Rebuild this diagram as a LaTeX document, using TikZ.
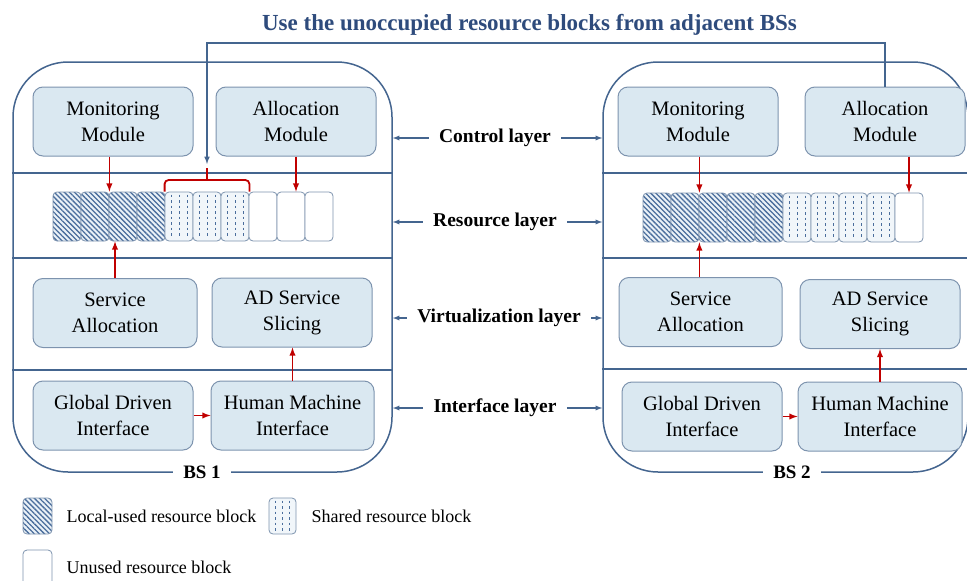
\documentclass[tikz,border=0pt]{standalone}
\usepackage{fontspec}
\setmainfont{Liberation Serif}
\usetikzlibrary{patterns.meta}
\definecolor{frameblue}{HTML}{44658F}
\definecolor{titleblue}{HTML}{2E4B7C}
\definecolor{modfill}{HTML}{DAE8F1}
\definecolor{modborder}{HTML}{7D93AE}
\definecolor{localfill}{HTML}{EAF1F7}
\definecolor{hatch}{HTML}{4A6D9C}
\definecolor{sharedfill}{HTML}{F1F6FA}
\definecolor{arrowred}{HTML}{C00000}
\begin{document}
\begin{tikzpicture}[x=1pt, y=-1pt,
    bsbox/.style={draw=frameblue, line width=1.5pt, rounded corners=55pt, minimum width=#1, minimum height=410pt},
    frame/.style={draw=frameblue, line width=1.5pt},
    module/.style={draw=modborder, fill=modfill, line width=1pt, rounded corners=10pt, minimum width=160pt, minimum height=69pt, align=center, font=\fontsize{20.5}{26}\selectfont},
    blk/.style={draw=modborder, line width=0.8pt, rounded corners=4pt, minimum width=28pt, minimum height=49pt, inner sep=0pt},
    localblk/.style={blk, preaction={fill=localfill}, pattern={Lines[angle=-45, distance=3.6pt, line width=1.3pt]}, pattern color=hatch},
    sharedblk/.style={blk, fill=sharedfill},
    freeblk/.style={blk, fill=white},
    dots/.style={draw=hatch, line width=0.6pt, dash pattern=on 2.5pt off 3pt, shorten <=3pt, shorten >=3pt},
    redarrow/.style={->, >=latex, draw=arrowred, line width=1.8pt},
    bracket/.style={draw=arrowred, line width=1.8pt, rounded corners=4pt},
    usearrow/.style={->, >=latex, draw=frameblue, line width=1.5pt},
    layerarrow/.style={->, >=latex, draw=frameblue, line width=1.3pt, shorten <=7pt},
    layer/.style={font=\bfseries\fontsize{19.5}{23}\selectfont},
    bslbl/.style={fill=white, inner xsep=10pt, font=\bfseries\fontsize{19}{23}\selectfont},
    legend/.style={anchor=west, font=\fontsize{18}{22}\selectfont}
]
    \useasboundingbox (0,0) rectangle (967,581);
    % base stations
    \node[bsbox=379pt] (bs1) at (202.5,267) {};
    \node[bsbox=365pt] (bs2) at (785.5,267) {};
    \foreach \y in {173,258,370} \draw[frame] (bs1.west |- 0,\y) -- (bs1.east |- 0,\y);
    \foreach \y in {173,258,369} \draw[frame] (bs2.west |- 0,\y) -- (bs2.east |- 0,\y);
    \node[bslbl] (bs1lbl) at (202,472) {BS 1};
    \node[bslbl] (bs2lbl) at (792,472) {BS 2};
    % BS 1 modules
    \node[module] (mon1) at (113,121.5) {Monitoring\\Module};
    \node[module] (alloc1) at (296,121.5) {Allocation\\Module};
    \node[module, minimum width=164pt] (serv1) at (115,313) {Service\\Allocation};
    \node[module] (slice1) at (292,312.5) {AD Service\\Slicing};
    \node[module] (glob1) at (113,415.5) {Global Driven\\Interface};
    \node[module, minimum width=163pt] (hmi1) at (292.5,415.5) {Human Machine\\Interface};
    % BS 2 modules
    \node[module] (mon2) at (698,121.5) {Monitoring\\Module};
    \node[module] (alloc2) at (885,121.5) {Allocation\\Module};
    \node[module, minimum width=163pt] (serv2) at (700.5,312) {Service\\Allocation};
    \node[module] (slice2) at (880,314) {AD Service\\Slicing};
    \node[module] (glob2) at (702,416.5) {Global Driven\\Interface};
    \node[module, minimum width=164pt] (hmi2) at (880,416.5) {Human Machine\\Interface};
    % resource blocks, BS 1
    \foreach \i in {1,...,4} \node[localblk] (b1-\i) at ({39+28*\i},216.5) {};
    \foreach \i in {5,...,7} \node[sharedblk] (b1-\i) at ({39+28*\i},216.5) {};
    \foreach \i in {8,...,10} \node[freeblk] (b1-\i) at ({39+28*\i},216.5) {};
    \foreach \i in {5,...,7} \foreach \dx in {-8,0,8}
        \draw[dots] ([xshift=\dx pt]b1-\i.north) -- ([xshift=\dx pt]b1-\i.south);
    % resource blocks, BS 2
    \foreach \i in {1,...,5} \node[localblk] (b2-\i) at ({629+28*\i},217.5) {};
    \foreach \i in {6,...,9} \node[sharedblk] (b2-\i) at ({629+28*\i},217.5) {};
    \node[freeblk] (b2-10) at (909,217.5) {};
    \foreach \i in {6,...,9} \foreach \dx in {-8,0,8}
        \draw[dots] ([xshift=\dx pt]b2-\i.north) -- ([xshift=\dx pt]b2-\i.south);
    % flows inside BS 1
    \draw[redarrow] (mon1.south -| b1-2.north east) -- (b1-2.north east);
    \draw[redarrow] (alloc1.south) -- (alloc1.south |- b1-9.north);
    \draw[redarrow] (serv1.north) -- (serv1.north |- b1-3.south);
    \draw[redarrow] (hmi1.north) -- (hmi1.north |- slice1.south);
    \draw[redarrow] (glob1.east) -- (hmi1.west);
    % flows inside BS 2
    \draw[redarrow] (mon2.south -| b2-2.north east) -- (b2-2.north east);
    \draw[redarrow] (b2-10.north |- alloc2.south) -- (b2-10.north);
    \draw[redarrow] (serv2.north -| b2-2.south east) -- (b2-2.south east);
    \draw[redarrow] (hmi2.north -| slice2.south) -- (slice2.south);
    \draw[redarrow] (glob2.east) -- (hmi2.west);
    % shared blocks borrowed by BS 2
    \coordinate (brkmid) at (207,180);
    \coordinate (peak) at (207,168);
    \coordinate (turn) at (207,43);
    \coordinate (drop) at (207,164);
    \draw[bracket] (b1-5.north west) |- (brkmid) -| (b1-7.north east);
    \draw[bracket] (brkmid) -- (peak);
    \draw[usearrow] (alloc2.north) |- (turn) -- (drop);
    \node[font=\bfseries\fontsize{23}{27}\selectfont, text=titleblue] (title) at (529.5,25) {Use the unoccupied resource blocks from adjacent BSs};
    % layers
    \node[layer] (lctl) at (495,138) {Control layer};
    \node[layer] (lres) at (495,222) {Resource layer};
    \node[layer] (lvir) at (499,318) {Virtualization layer};
    \node[layer] (lint) at (495,408) {Interface layer};
    \foreach \l in {lctl,lres,lvir,lint} {
        \draw[layerarrow] (\l.west) -- (\l.west -| bs1.east);
        \draw[layerarrow] (\l.east) -- (\l.east -| bs2.west);
    }
    % legend
    \node[localblk, minimum width=29pt, minimum height=36pt] (keyloc) at (37.5,516) {};
    \node[legend] (keyloctxt) at (63,516) {Local-used resource block};
    \node[sharedblk, minimum width=27pt, minimum height=36pt] (keyshr) at (282.5,516) {};
    \foreach \dx in {-7,0,7}
        \draw[dots] ([xshift=\dx pt]keyshr.north) -- ([xshift=\dx pt]keyshr.south);
    \node[legend] (keyshrtxt) at (308,516) {Shared resource block};
    \node[freeblk, minimum width=29pt, minimum height=36pt] (keyfree) at (37.5,568) {};
    \node[legend] (keyfreetxt) at (63,567) {Unused resource block};
\end{tikzpicture}
\end{document}
